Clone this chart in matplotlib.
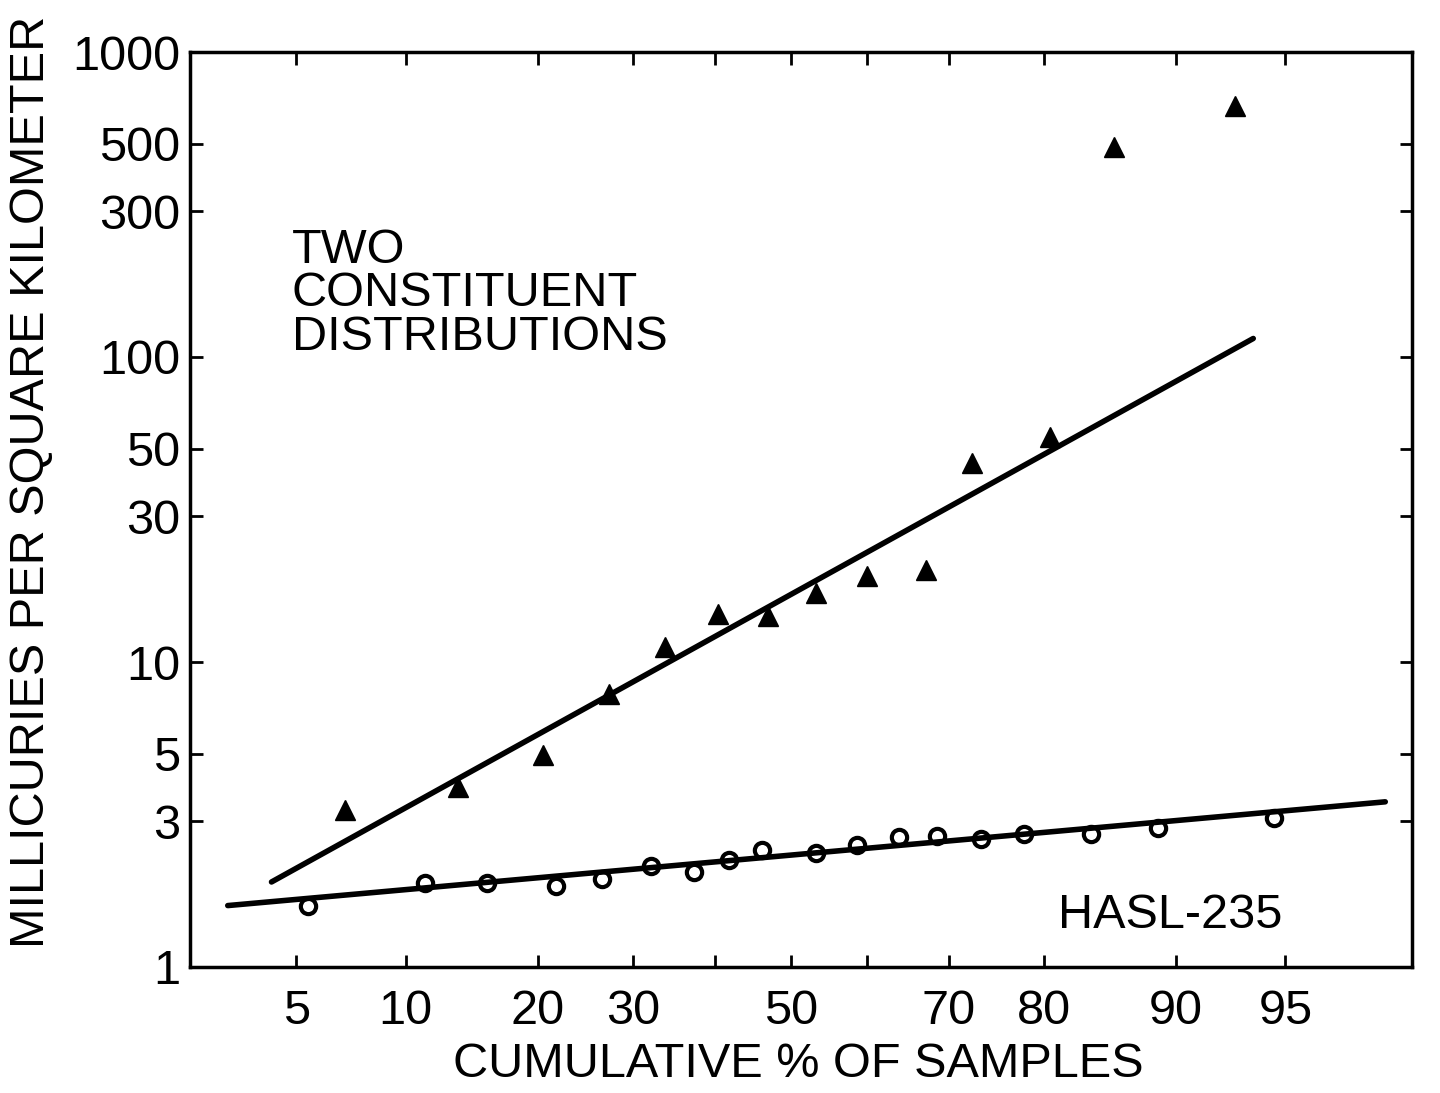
import numpy as np
import matplotlib
matplotlib.use("Agg")
import matplotlib.pyplot as plt
from matplotlib.ticker import FixedLocator, FixedFormatter, NullFormatter, NullLocator
from statistics import NormalDist

# ---------------- data ----------------
tri_pct = [6.9, 13.4, 20.5, 27.2, 33.8, 40.4, 46.9, 53.3, 60.0, 67.4, 72.7, 80.6, 85.9, 93.0]
tri_val = [3.28, 3.9, 4.95, 7.87, 11.2, 14.4, 14.2, 16.8, 19.2, 20.1, 45.0, 54.7, 487, 665]

circ_pct = [5.4, 11.2, 15.6, 21.7, 26.5, 32.1, 37.4, 41.9, 46.2, 53.3, 58.7,
            64.1, 68.7, 73.6, 78.1, 84.1, 88.9, 94.6]
circ_val = [1.59, 1.89, 1.89, 1.85, 1.95, 2.14, 2.05, 2.24, 2.41, 2.36, 2.51,
            2.67, 2.69, 2.63, 2.73, 2.72, 2.86, 3.08]

tri_fit_pct = [4.2, 93.8]
tri_fit_val = [1.90, 115.0]
circ_fit_pct = [3.05, 97.6]
circ_fit_val = [1.59, 3.48]

x_major = [5, 10, 20, 30, 50, 70, 80, 90, 95]
x_minor = [40, 60]
y_ticks = [1, 3, 5, 10, 30, 50, 100, 300, 500, 1000]

# ---------------- normal-probability scale ----------------
_nd = NormalDist()


def _ppf_scalar(p):
    if not np.isfinite(p):
        return np.nan
    q = min(max(p / 100.0, 1e-9), 1 - 1e-9)
    return _nd.inv_cdf(q)


def _cdf_scalar(z):
    if not np.isfinite(z):
        return np.nan
    return _nd.cdf(z) * 100.0


_ppf = np.vectorize(_ppf_scalar, otypes=[float])
_cdf = np.vectorize(_cdf_scalar, otypes=[float])


def forward(p):
    return _ppf(np.asarray(p, dtype=float))


def inverse(z):
    return _cdf(np.asarray(z, dtype=float))


plt.rcParams['font.family'] = ['Liberation Sans', 'DejaVu Sans']

W, H = 1440, 1093
fig = plt.figure(figsize=(W / 100, H / 100), dpi=100)
L, R, T, B = 190, 1412, 52, 967
ax = fig.add_axes([L / W, 1 - B / H, (R - L) / W, (B - T) / H])

ax.set_xscale('function', functions=(forward, inverse))
ax.set_yscale('log')
ax.set_xlim(2.28, 98.06)
ax.set_ylim(1, 1000)

# fitted lines
ax.plot(tri_fit_pct, tri_fit_val, color='black', lw=4, solid_capstyle='round', zorder=2)
ax.plot(circ_fit_pct, circ_fit_val, color='black', lw=4, solid_capstyle='round', zorder=2)

# data points
ax.plot(tri_pct, tri_val, linestyle='none', marker='^', ms=14, mfc='black', mec='black',
        mew=1, zorder=3)
ax.plot(circ_pct, circ_val, linestyle='none', marker='o', ms=11, mfc='none', mec='black',
        mew=3, zorder=3)

# ticks
ax.xaxis.set_major_locator(FixedLocator(x_major))
ax.xaxis.set_major_formatter(FixedFormatter([str(v) for v in x_major]))
ax.xaxis.set_minor_locator(FixedLocator(x_minor))
ax.xaxis.set_minor_formatter(NullFormatter())
ax.yaxis.set_major_locator(FixedLocator(y_ticks))
ax.yaxis.set_major_formatter(FixedFormatter([str(v) for v in y_ticks]))
ax.yaxis.set_minor_locator(NullLocator())

ax.tick_params(which='both', direction='in', top=True, right=True, length=9, width=2,
               color='black', labelcolor='black', labelsize=35)
ax.tick_params(axis='x', which='both', pad=16)
ax.tick_params(axis='y', which='both', pad=7)

for s in ax.spines.values():
    s.set_linewidth(2.5)
    s.set_color('black')

ax.set_xlabel('CUMULATIVE % OF SAMPLES', fontsize=35, color='black')
ax.xaxis.set_label_coords((798 - L) / (R - L), (B - 1042) / (B - T))
ax.set_ylabel('MILLICURIES PER SQUARE KILOMETER', fontsize=35, color='black')
ax.yaxis.set_label_coords((54 - L) / (R - L), (B - 482) / (B - T))

ax.text((292 - L) / (R - L), (B - 228) / (B - T), 'TWO\nCONSTITUENT\nDISTRIBUTIONS',
        transform=ax.transAxes, ha='left', va='top', fontsize=35, linespacing=0.95,
        color='black')
ax.text((1058 - L) / (R - L), (B - 928) / (B - T), 'HASL-235',
        transform=ax.transAxes, ha='left', va='baseline', fontsize=35, color='black')

fig.savefig('out.png', dpi=100, facecolor='white')
